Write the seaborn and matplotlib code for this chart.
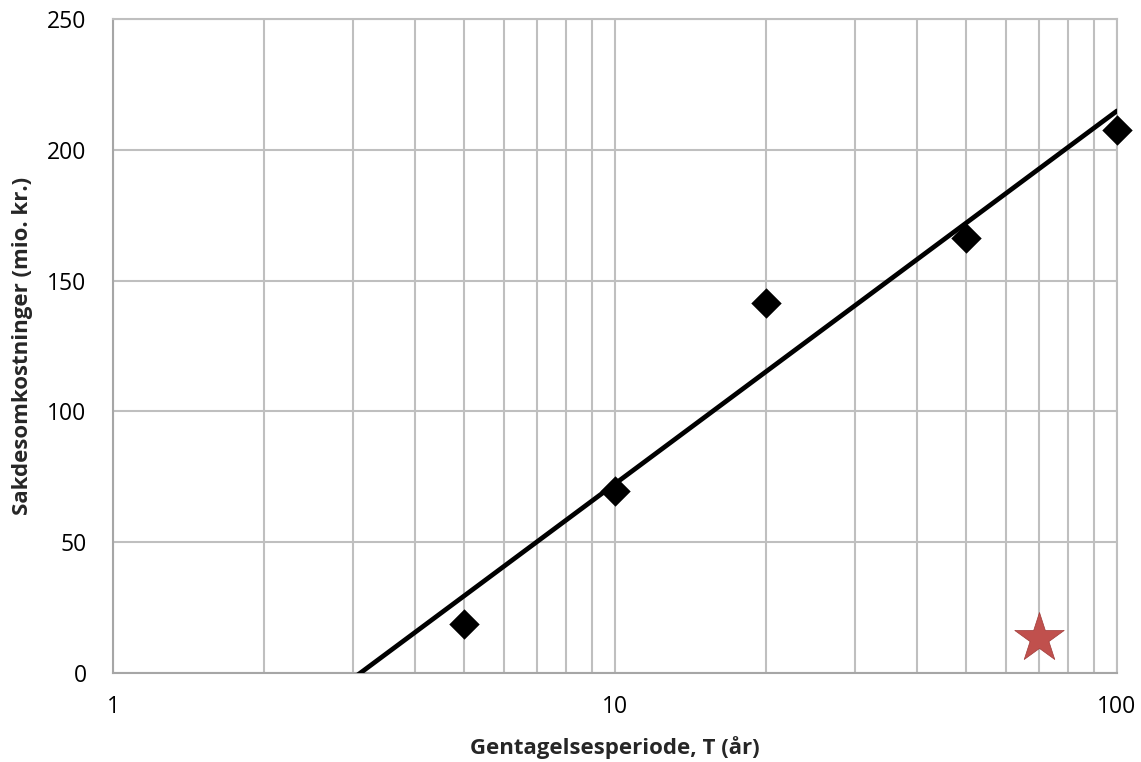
import numpy as np
import pandas as pd
import matplotlib
matplotlib.use("Agg")
import matplotlib.pyplot as plt
import seaborn as sns
from matplotlib.ticker import LogLocator, FixedLocator, NullFormatter

# Data
T_obs = [5, 10, 20, 50, 100]
cost_obs = [18.7, 69.5, 141.6, 166.4, 207.6]
T_star = [70]
cost_star = [13.4]
x_ticks = [1, 10, 100]
x_ticklabels = ["1", "10", "100"]
y_ticks = [0, 50, 100, 150, 200, 250]

sns.set_theme(style="white")
plt.rcParams['font.family'] = ['Open Sans', 'DejaVu Sans']

fig = plt.figure(figsize=(11.41, 7.62), dpi=100)
ax = fig.add_axes([113/1141, 89/762, (1117-113)/1141, (673-19)/762])

grid_c = "#BFBFBF"
# log trendline (like Excel)
b, a = np.polyfit(np.log(T_obs), cost_obs, 1)
T_line = np.logspace(0, 2, 200)
df_line = pd.DataFrame({"T": T_line, "y": a + b*np.log(T_line)})
sns.lineplot(data=df_line, x="T", y="y", ax=ax, color="black", lw=3.4, zorder=3)

df = pd.DataFrame({"T": T_obs, "y": cost_obs})
sns.scatterplot(data=df, x="T", y="y", ax=ax, marker="D", s=240, color="black",
                edgecolor="black", linewidth=0, zorder=4, clip_on=False)
dfs = pd.DataFrame({"T": T_star, "y": cost_star})
sns.scatterplot(data=dfs, x="T", y="y", ax=ax, marker="*", s=1400, color="#C0504D",
                edgecolor="#A03A38", linewidth=0.5, zorder=4, clip_on=False)

ax.set_xscale("log")
ax.set_xlim(1, 100)
ax.set_ylim(0, 250)
ax.xaxis.set_major_locator(FixedLocator(x_ticks))
ax.set_xticklabels(x_ticklabels)
ax.xaxis.set_minor_locator(LogLocator(base=10, subs=np.arange(2, 10)))
ax.xaxis.set_minor_formatter(NullFormatter())
ax.set_yticks(y_ticks)
ax.grid(True, which="both", axis="x", color=grid_c, lw=1.5)
ax.grid(True, which="major", axis="y", color=grid_c, lw=1.5)
ax.set_axisbelow(True)
for s in ["top", "right"]:
    ax.spines[s].set_color(grid_c)
    ax.spines[s].set_linewidth(1.5)
for s in ["left", "bottom"]:
    ax.spines[s].set_color("#A6A6A6")
    ax.spines[s].set_linewidth(1.5)
ax.tick_params(axis="both", which="both", length=0, labelsize=16.5, colors="black")
ax.tick_params(axis="x", pad=16)
ax.tick_params(axis="y", pad=19)
ax.set_xlabel("Gentagelsesperiode, T (år)", fontsize=16, fontweight="bold", labelpad=12)
ax.set_ylabel("Sakdesomkostninger (mio. kr.)", fontsize=16, fontweight="bold", labelpad=10)

fig.savefig("out.png", dpi=100)
